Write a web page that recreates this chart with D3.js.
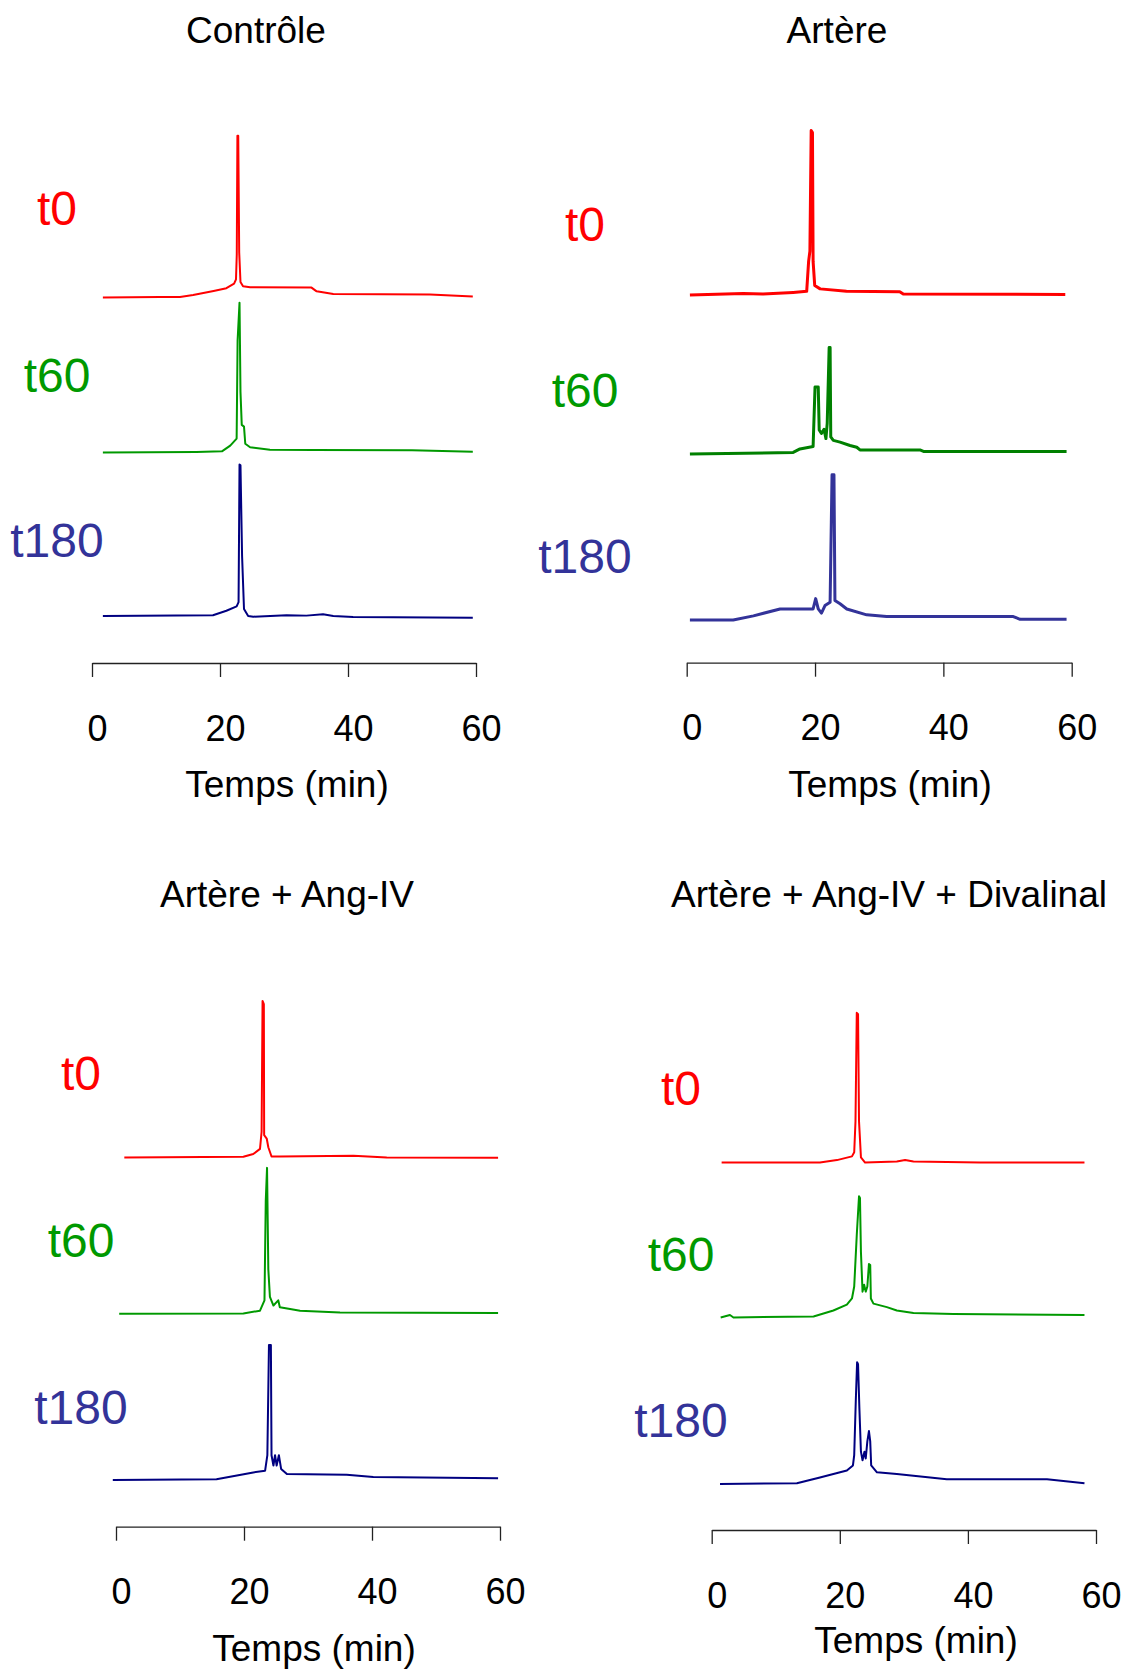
<!DOCTYPE html>
<html>
<head>
<meta charset="utf-8">
<script src="https://cdn.jsdelivr.net/npm/d3@7"></script>
<style>
  body { margin: 0; background: #fff; }
  svg { display: block; font-family: "Liberation Sans", Arial, sans-serif; }
</style>
</head>
<body>
<div id="chart"></div>
<script>
// HPLC chromatograms, 4 conditions x 3 sampling times
const titles = ["Contrôle", "Artère", "Artère + Ang-IV", "Artère + Ang-IV + Divalinal"];
const sampleLabels = ["t0", "t60", "t180"];
const xTicks = [0, 20, 40, 60];
const xLabel = "Temps (min)";

// vertical offset of each trace (signal units), order t0, t60, t180
const traceOffsets = [[155, 80, 0], [157, 80, 0], [156, 80.5, 0], [155.5, 80.5, 0]];

// [time (min), signal]
const controleT0 = [[1.7,0.2],[10.6,0.5],[13.75,0.5],[15.8,1.4],[19,3.4],[21,4.7],[22.2,6.9],[22.5,9],[22.62,21],[22.72,78.5],[22.85,78.5],[23.0,22],[23.2,7.7],[23.6,5.7],[24.7,5.2],[34.3,5],[35.1,3.2],[37.7,1.9],[52.8,1.7],[59.5,0.7]];
const controleT60 = [[1.7,0.2],[16.3,0.4],[20.3,0.7],[21.6,3.5],[22.6,6.9],[22.75,54.5],[23.05,72.7],[23.2,29.5],[23.4,13.5],[23.75,12.7],[23.95,4.4],[24.7,2.7],[27.8,1.5],[34.5,1.4],[50,1.2],[59.5,0.5]];
const controleT180 = [[1.7,1.0],[18.9,1.35],[21,3.5],[22.6,5.65],[22.9,7.65],[23.05,74.35],[23.2,74],[23.45,30],[23.75,4.35],[24.4,1.0],[25.2,0.65],[30.4,1.35],[33.5,1.15],[36.1,1.85],[37.7,1.0],[40.8,0.5],[59.5,0.15]];

const artereT0 = [[0.5,0.35],[8.8,1.15],[11.9,0.85],[16.6,1.65],[18.7,2.15],[19.0,16.65],[19.2,21.65],[19.4,80],[19.6,79],[19.7,16.65],[19.95,5],[20.8,3.35],[24.9,2.15],[33.2,2],[33.75,0.85],[59,0.65]];
const artereT60 = [[0.5,0.35],[16.6,1.15],[17.65,2.85],[19.7,4],[20.0,32.85],[20.5,32.85],[20.65,12],[21.0,10.35],[21.4,12.35],[21.7,7.85],[21.9,15.35],[22.2,52],[22.35,52],[22.45,8.65],[22.85,7],[23.9,6.15],[25.45,4.5],[26.5,3.65],[27.0,2.35],[36.35,2.35],[36.9,1.65],[59.2,1.65]];
const artereT180 = [[0.5,0],[7.25,0],[10.4,2],[14.55,5.35],[19.7,5.35],[20.1,10.35],[20.5,5.35],[21.0,3.35],[21.55,7],[22.35,8.65],[22.65,70.35],[22.95,70.35],[23.1,9.5],[23.9,7.85],[24.95,5.35],[28.05,2.5],[31.15,1.65],[50.9,1.65],[51.95,0.35],[59.2,0.35]];

const angT0 = [[1.3,0.15],[19.9,0.5],[21.45,1.85],[22.5,4.35],[22.75,12.65],[22.9,76],[23.1,74.5],[23.15,11],[23.55,9.35],[23.8,5.15],[24.3,0.65],[25.6,0.65],[37.1,1],[42.3,0.15],[59.7,0]];
const angT60 = [[0.5,0],[19.9,0.15],[22.5,1.5],[23.2,6.5],[23.4,54.85],[23.6,70.65],[23.8,21.5],[24.05,8.15],[24.6,4],[25.35,6.5],[25.6,3.15],[27.2,2.35],[28.75,1.5],[35,0.65],[59.7,0.35]];
const angT180 = [[-0.5,0],[15.7,0.35],[21.45,3.65],[23.3,4.5],[23.65,12],[23.9,65.35],[24.2,65.35],[24.3,12],[24.6,7],[24.85,12],[25.1,7],[25.45,12],[25.8,5.35],[26.7,2.85],[36.05,2.5],[40.2,1.5],[59.7,0.85]];

const divT0 = [[1.55,0.15],[16.9,0.15],[19.55,1.35],[21.9,3.15],[22.25,5.15],[22.45,20.15],[22.65,72.65],[22.85,72],[23.0,20.15],[23.3,2.65],[23.95,0.15],[28.9,0.65],[30.2,1.35],[31.5,0.65],[41.9,0.15],[58.2,0.15]];
const divT60 = [[1.4,0.15],[2.85,1.35],[3.4,0.15],[15.9,0.65],[19.0,3.5],[21.1,6.35],[21.9,9.35],[22.25,15.15],[22.65,40.15],[23.0,58.85],[23.15,58],[23.3,31.85],[23.55,12.65],[23.8,16],[24.05,12.65],[24.3,15.15],[24.55,26],[24.75,25.5],[24.85,9.35],[25.25,6.85],[27.35,5.15],[28.9,3.5],[31.5,2.35],[37.75,1.85],[58.2,1.35]];
const divT180 = [[1.3,0],[13.3,0.35],[16.9,3.15],[21.1,6.5],[22.05,9],[22.25,14],[22.5,40.65],[22.7,59],[22.85,58],[23.05,37.35],[23.3,15.65],[23.55,11.5],[23.85,15.65],[24.05,12.35],[24.3,20.65],[24.55,25.65],[24.75,20.65],[24.9,9],[25.8,5.65],[28.9,4.85],[34.1,3.15],[36.7,2.35],[52.35,2.35],[58.2,0.35]];

const series = [
  [controleT0, controleT60, controleT180],
  [artereT0, artereT60, artereT180],
  [angT0, angT60, angT180],
  [divT0, divT60, divT180]
];

// layout of each panel on the page
const layout = [
  { x0: 92,    x1: 476,    axisY: 663,    base: 618,  titleX: 256, titleY: 43,  xlabX: 287, xlabY: 797,
    labX: 57,  labY: [225, 391.7, 556.7],  colors: ["#ff0000", "#009900", "#000080"], lw: 2 },
  { x0: 686.7, x1: 1071.7, axisY: 662.7,  base: 620,  titleX: 837, titleY: 43,  xlabX: 890, xlabY: 797,
    labX: 585, labY: [240.7, 406.7, 573.3], colors: ["#ff0000", "#008000", "#333399"], lw: 3 },
  { x0: 116,   x1: 500,    axisY: 1526.7, base: 1480, titleX: 287, titleY: 907, xlabX: 314, xlabY: 1661,
    labX: 81,  labY: [1090, 1257, 1423.5], colors: ["#ff0000", "#009900", "#000080"], lw: 2 },
  { x0: 711.7, x1: 1096,   axisY: 1530,   base: 1484, titleX: 889, titleY: 907, xlabX: 916, xlabY: 1653,
    labX: 681, labY: [1105, 1271, 1437],   colors: ["#ff0000", "#009900", "#000080"], lw: 2 }
];
const labelColors = ["#ff0000", "#009900", "#333399"];

const width = 1135, height = 1670;
const svg = d3.select("#chart").append("svg")
  .attr("width", width)
  .attr("height", height);

layout.forEach((L, p) => {
  const g = svg.append("g");

  const x = d3.scaleLinear().domain([0, 60]).range([L.x0, L.x1]);
  // ~2.07 px per signal unit
  const y = d3.scaleLinear().domain([0, 200]).range([L.base, L.base - 413]);

  // title
  g.append("text")
    .attr("x", L.titleX).attr("y", L.titleY)
    .attr("text-anchor", "middle")
    .attr("font-size", 37)
    .attr("fill", "#000")
    .text(titles[p]);

  // traces
  series[p].forEach((data, i) => {
    const off = traceOffsets[p][i];
    const line = d3.line()
      .x(d => x(d[0]))
      .y(d => y(d[1] + off));
    g.append("path")
      .datum(data)
      .attr("d", line)
      .attr("fill", "none")
      .attr("stroke", L.colors[i])
      .attr("stroke-width", L.lw)
      .attr("stroke-linejoin", "round");

    g.append("text")
      .attr("x", L.labX).attr("y", L.labY[i])
      .attr("text-anchor", "middle")
      .attr("font-size", 48)
      .attr("fill", labelColors[i])
      .text(sampleLabels[i]);
  });

  // bottom axis
  const axisG = g.append("g")
    .attr("transform", `translate(0,${L.axisY})`)
    .call(d3.axisBottom(x)
      .tickValues(xTicks)
      .tickSizeInner(14)
      .tickSizeOuter(0)
      .tickPadding(38));

  axisG.select(".domain").attr("stroke", "#222").attr("stroke-width", 1.3);
  axisG.selectAll(".tick line").attr("stroke", "#222").attr("stroke-width", 1.3);
  axisG.selectAll(".tick text")
    .attr("font-size", 36)
    .attr("font-family", "\"Liberation Sans\", Arial, sans-serif")
    .attr("fill", "#000")
    .attr("dx", 5);

  g.append("text")
    .attr("x", L.xlabX).attr("y", L.xlabY)
    .attr("text-anchor", "middle")
    .attr("font-size", 37)
    .attr("fill", "#000")
    .text(xLabel);
});
</script>
</body>
</html>
